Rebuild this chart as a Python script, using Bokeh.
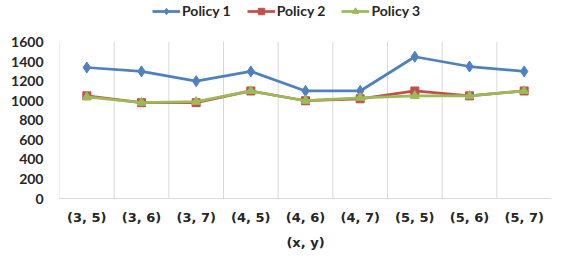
from bokeh.plotting import figure
from bokeh.models import FixedTicker, Legend, LegendItem, Range1d, ColumnDataSource
from bokeh.embed import file_html
from bokeh.resources import INLINE

categories = ["(3, 5)", "(3, 6)", "(3, 7)", "(4, 5)", "(4, 6)", "(4, 7)", "(5, 5)", "(5, 6)", "(5, 7)"]
policy1 = [1340, 1300, 1200, 1300, 1100, 1100, 1450, 1350, 1300]
policy2 = [1050, 980, 980, 1100, 1000, 1020, 1100, 1050, 1100]
policy3 = [1040, 980, 990, 1100, 1000, 1030, 1050, 1050, 1100]
series_names = ["Policy 1", "Policy 2", "Policy 3"]
y_ticks = [0, 200, 400, 600, 800, 1000, 1200, 1400, 1600]

FONT = "Lato"
XFONT = "DejaVu Sans"
TXT = "#262626"
n = len(categories)
xs = [i + 0.5 for i in range(n)]

W, H = 551, 252
BOTTOM = 52
TOP_GAP = 42  # pixels above the top tick reserved for the legend
frame_h = H - BOTTOM
y_end = y_ticks[-1] * frame_h / (frame_h - TOP_GAP)

p = figure(width=W, height=H, x_range=Range1d(0, n), y_range=Range1d(0, y_end),
           output_backend="svg", toolbar_location=None,
           min_border_left=59, min_border_right=0, min_border_top=0, min_border_bottom=BOTTOM)
p.outline_line_color = None
p.background_fill_color = "white"
p.border_fill_color = "white"
p.xgrid.grid_line_color = None
p.ygrid.grid_line_color = None

# vertical category-boundary grid lines, limited to the tick range
bounds = list(range(n + 1))
p.segment(x0=bounds, y0=[y_ticks[0]] * len(bounds), x1=bounds, y1=[y_ticks[-1]] * len(bounds),
          line_color="#d9d9d9", line_width=1)

colors = ["#4F81BD", "#C0504D", "#9BBB59"]
markers = ["diamond", "square", "triangle"]
sizes = [11, 8, 9]
items = []
for name, vals, c, m, s in zip(series_names, [policy1, policy2, policy3], colors, markers, sizes):
    src = ColumnDataSource(dict(x=xs, y=vals))
    ln = p.line("x", "y", source=src, line_color=c, line_width=2.75)
    sc = p.scatter("x", "y", source=src, marker=m, size=s, fill_color=c, line_color=c)
    items.append(LegendItem(label=name, renderers=[ln, sc]))

legend = Legend(items=items, orientation="horizontal", location=(93, frame_h - 21))
legend.label_text_font = FONT
legend.label_text_font_style = "bold"
legend.label_text_font_size = "14px"
legend.label_text_color = TXT
legend.glyph_width = 28
legend.glyph_height = 16
legend.label_height = 16
legend.label_standoff = 2
legend.spacing = 16
legend.padding = 2
legend.margin = 0
legend.border_line_color = None
legend.background_fill_alpha = 0
p.add_layout(legend, "center")

p.yaxis.ticker = FixedTicker(ticks=y_ticks)
p.yaxis.axis_line_color = None
p.yaxis.major_tick_line_color = None
p.yaxis.minor_tick_line_color = None
p.yaxis.major_tick_out = 0
p.yaxis.major_tick_in = 0
p.yaxis.major_label_standoff = 16
p.yaxis.major_label_text_font = FONT
p.yaxis.major_label_text_font_style = "bold"
p.yaxis.major_label_text_font_size = "14px"
p.yaxis.major_label_text_color = TXT

p.xaxis.ticker = FixedTicker(ticks=xs)
p.xaxis.major_label_overrides = {x: c for x, c in zip(xs, categories)}
p.xaxis.axis_line_color = "#d9d9d9"
p.xaxis.major_tick_line_color = None
p.xaxis.minor_tick_line_color = None
p.xaxis.major_tick_out = 0
p.xaxis.major_tick_in = 0
p.xaxis.major_label_standoff = 11
p.xaxis.major_label_text_font = XFONT
p.xaxis.major_label_text_font_style = "bold"
p.xaxis.major_label_text_font_size = "13px"
p.xaxis.major_label_text_color = TXT
p.xaxis.axis_label = "(x, y)"
p.xaxis.axis_label_text_font = XFONT
p.xaxis.axis_label_text_font_style = "bold"
p.xaxis.axis_label_text_font_size = "13px"
p.xaxis.axis_label_text_color = TXT
p.xaxis.axis_label_standoff = 7

open("out.html", "w").write(file_html(p, INLINE))
